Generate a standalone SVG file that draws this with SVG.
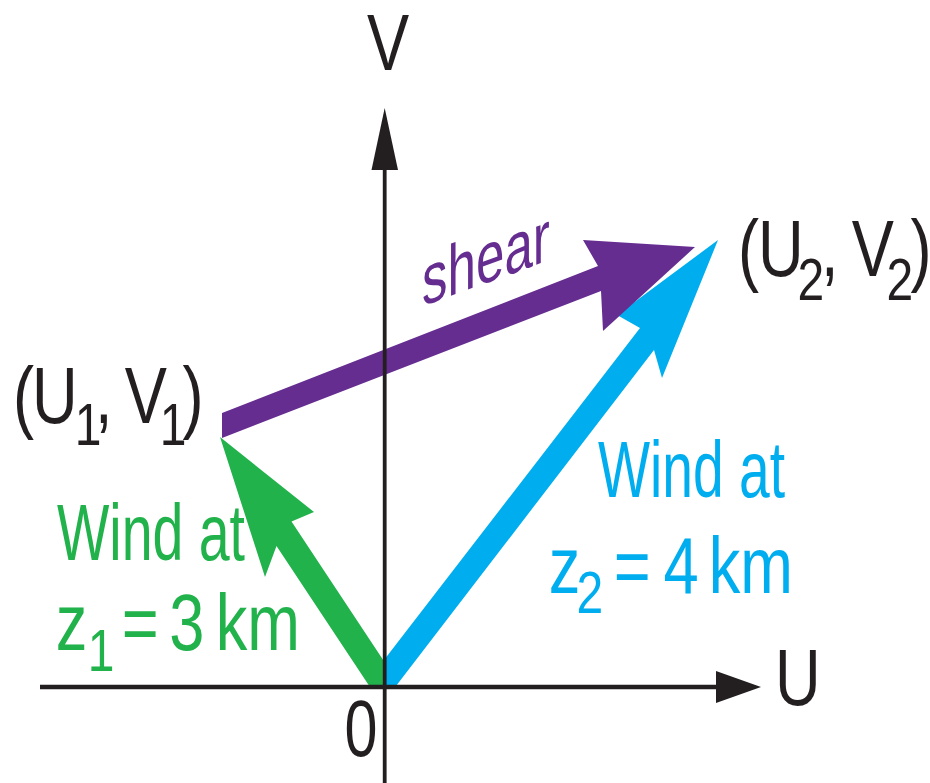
<svg xmlns="http://www.w3.org/2000/svg" width="930" height="783" viewBox="0 0 930 783">
<style>
  text { font-family: "Liberation Sans", Arial, sans-serif; font-size: 79px; }
  .k { fill: #231f20; }
  .g { fill: #22b24c; }
  .b { fill: #00aeef; }
  .p { fill: #662d91; }
  .sub { font-size: 60px; }
  .axis { stroke: #231f20; fill: none; }
  .head { fill: #231f20; }
</style>
<rect width="930" height="783" fill="#ffffff"/>
<g id="connectors">
  <polygon id="wind-z1" class="g" points="220,437 314,512 291.5,521.5 384,661.3 384,686 369.3,686 276.5,545.9 265,577"/>
  <polygon id="wind-z2" class="b" points="718,240 662,378 654,350 396,686 384,686 384,660 640,328 617,315"/>
  <polygon id="shear-vector" class="p" points="222,413 598,266 583,240 695,247 603,331 601,291 222,438"/>
</g>
<g id="axes">
  <line class="axis" x1="384.7" y1="783" x2="384.7" y2="160" stroke-width="3.8"/>
  <polygon class="head" points="384.7,108 398,170 371.5,170"/>
  <line class="axis" x1="40" y1="687" x2="722" y2="687" stroke-width="4.5"/>
  <polygon class="head" points="761,687 716,671 716,703"/>
</g>
<g id="axis-labels">
  <text class="k" transform="translate(367,70) scale(0.8,1)">V</text>
  <text class="k" transform="translate(775,705) scale(0.8,1)">U</text>
  <text class="k" transform="translate(344.5,756) scale(0.75,1)">0</text>
</g>
<g id="point-1">
  <text class="k" transform="translate(13,423) scale(0.8,1)"><tspan x="0">(</tspan><tspan x="23.7">U</tspan><tspan class="sub" x="77.3" y="22">1</tspan><tspan x="102.4" y="0">,</tspan> <tspan x="139.7">V</tspan><tspan class="sub" x="183.5" y="22">1</tspan><tspan x="211.8" y="0">)</tspan></text>
</g>
<g id="point-2">
  <text class="k" transform="translate(738,276) scale(0.8,1)"><tspan x="0">(</tspan><tspan x="24.95">U</tspan><tspan class="sub" x="74.45" y="24">2</tspan><tspan x="103.7" y="0">,</tspan> <tspan x="142.2">V</tspan><tspan class="sub" x="185.7" y="24">2</tspan><tspan x="215.55" y="0">)</tspan></text>
</g>
<g id="label-z1">
  <text class="g" x="57" y="560" textLength="188" lengthAdjust="spacingAndGlyphs">Wind at</text>
  <text class="g" transform="translate(55.7,650) scale(0.8,1)"><tspan x="0">z</tspan><tspan class="sub" x="40.1" y="21">1</tspan> <tspan x="82.6" y="0">=</tspan> <tspan x="142">3</tspan> <tspan x="200.1">km</tspan></text>
</g>
<g id="label-z2">
  <text class="b" x="598" y="497" textLength="187" lengthAdjust="spacingAndGlyphs">Wind at</text>
  <text class="b" transform="translate(548.7,593) scale(0.8,1)"><tspan x="0">z</tspan><tspan class="sub" x="34.8" y="20">2</tspan> <tspan x="81.4" y="0">=</tspan> <tspan x="143.4">4</tspan> <tspan x="200.1">km</tspan></text>
</g>
<g id="label-shear">
  <text class="p" font-size="72" style="font-size:72px" transform="translate(422,306.4) skewY(-20) scale(0.71,1)">shear</text>
</g>
</svg>
